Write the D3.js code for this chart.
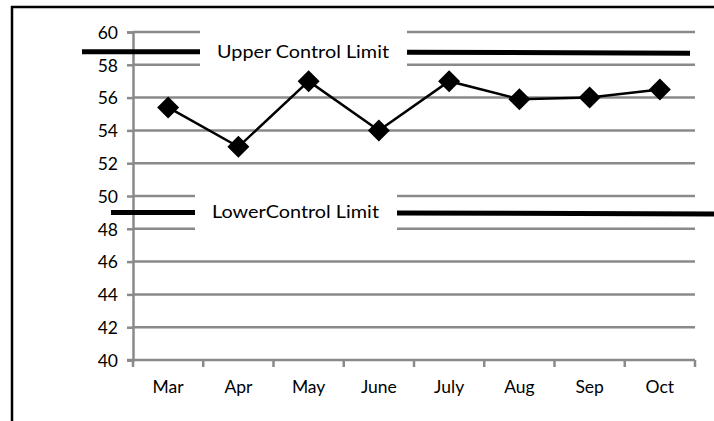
<!DOCTYPE html>
<html>
<head>
<meta charset="utf-8">
<script src="https://cdn.jsdelivr.net/npm/d3@7/dist/d3.min.js"></script>
<style>
  html, body { margin: 0; padding: 0; background: #fff; }
  svg { display: block; }
  text { font-family: Lato, "Open Sans", sans-serif; fill: #000; }
</style>
</head>
<body>
<svg id="chart" width="714" height="421"></svg>
<script>
// Monthly measurements
const months = ["Mar", "Apr", "May", "June", "July", "Aug", "Sep", "Oct"];
const values = [55.4, 53, 57, 54, 57, 55.9, 56, 56.5];
const yTicks = [40, 42, 44, 46, 48, 50, 52, 54, 56, 58, 60];
// Control limits and their captions
const limitValues = [58.8, 49];
const limitLabels = ["Upper Control Limit", "LowerControl Limit"];

const W = 714, H = 421;
const plot = { left: 133, right: 695, top: 32, bottom: 360 };
const grid = "#8a8a8a";

const svg = d3.select("#chart");

// Outer frame (top and left edges)
svg.append("line").attr("x1", 11).attr("x2", W).attr("y1", 7).attr("y2", 7)
  .attr("stroke", "#000").attr("stroke-width", 2.5);
svg.append("line").attr("x1", 12).attr("x2", 12).attr("y1", 6).attr("y2", H)
  .attr("stroke", "#000").attr("stroke-width", 2.5);

const x = d3.scaleBand().domain(months).range([plot.left, plot.right]);
const y = d3.scaleLinear().domain([40, 60]).range([plot.bottom, plot.top]);
const cx = m => x(m) + x.bandwidth() / 2;

// Horizontal gridlines
svg.append("g").selectAll("line").data(yTicks.filter(t => t > 40)).join("line")
  .attr("x1", plot.left).attr("x2", plot.right)
  .attr("y1", d => y(d)).attr("y2", d => y(d))
  .attr("stroke", grid).attr("stroke-width", 2.5);

// Y axis
const yAxis = svg.append("g").attr("transform", `translate(${plot.left},0)`)
  .call(d3.axisLeft(y).tickValues(yTicks).tickSize(6).tickPadding(9));
yAxis.attr("font-size", null).attr("font-family", null);
yAxis.select(".domain").attr("stroke", grid).attr("stroke-width", 2.5);
yAxis.selectAll(".tick line").attr("stroke", grid).attr("stroke-width", 2.5);
yAxis.selectAll(".tick text").style("font-size", "17.5px").attr("dy", "0.36em");

// X axis with ticks between categories
const xAxis = svg.append("g").attr("transform", `translate(0,${plot.bottom})`);
xAxis.append("line").attr("x1", plot.left - 6).attr("x2", plot.right)
  .attr("y1", 0).attr("y2", 0).attr("stroke", grid).attr("stroke-width", 2.5);
const bounds = months.map(m => x(m)).concat([plot.right]);
xAxis.selectAll("line.tk").data(bounds).join("line").attr("class", "tk")
  .attr("x1", d => d).attr("x2", d => d).attr("y1", 0).attr("y2", 7)
  .attr("stroke", grid).attr("stroke-width", 2.5);
xAxis.selectAll("text").data(months).join("text")
  .attr("x", d => cx(d)).attr("y", 33)
  .attr("text-anchor", "middle").style("font-size", "17.5px").text(d => d);

// Caption boxes that interrupt the gridlines and limit lines
const boxes = [
  { x0: 200, x1: 407, lineL: 82, lineR: 690, tx: 217, tw: 172 },
  { x0: 195, x1: 397, lineL: 111, lineR: W + 2, tx: 212, tw: 167 }
];
limitValues.forEach((v, i) => {
  const b = boxes[i];
  const yy = y(v);
  svg.append("rect").attr("x", b.x0).attr("y", yy - 24)
    .attr("width", b.x1 - b.x0).attr("height", 48).attr("fill", "#fff");
  svg.append("line").attr("x1", b.lineL).attr("x2", b.x0)
    .attr("y1", yy).attr("y2", yy).attr("stroke", "#000").attr("stroke-width", 5);
  svg.append("line").attr("x1", b.x1).attr("x2", b.lineR)
    .attr("y1", yy + 0.5).attr("y2", yy + 1.5).attr("stroke", "#000").attr("stroke-width", 5);
  svg.append("text").attr("x", b.tx).attr("y", yy + 6)
    .style("font-size", "17.5px").attr("textLength", b.tw).attr("lengthAdjust", "spacingAndGlyphs")
    .text(limitLabels[i]);
});

// Data series
const line = d3.line().x((d, i) => cx(months[i])).y(d => y(d));
svg.append("path").datum(values).attr("d", line)
  .attr("fill", "none").attr("stroke", "#000").attr("stroke-width", 2.5);

svg.append("g").selectAll("path").data(values).join("path")
  .attr("transform", (d, i) => `translate(${cx(months[i])},${y(d)})`)
  .attr("d", "M0,-11L11,0L0,11L-11,0Z")
  .attr("fill", "#000");
</script>
</body>
</html>
